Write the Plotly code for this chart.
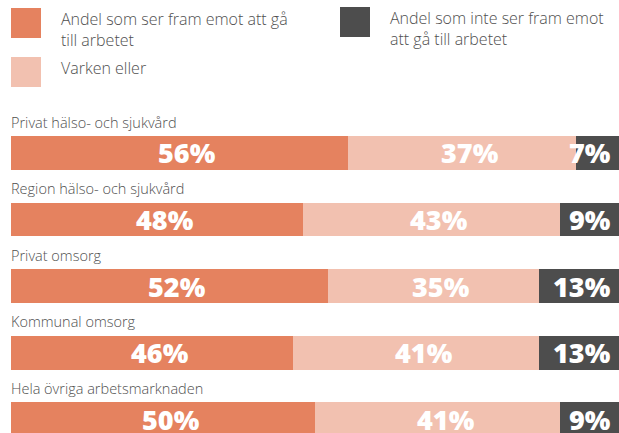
import plotly.graph_objects as go

categories = ["Privat hälso- och sjukvård", "Region hälso- och sjukvård", "Privat omsorg",
              "Kommunal omsorg", "Hela övriga arbetsmarknaden"]
positive = [55.4, 48.0, 52.1, 46.4, 50.0]
neutral = [37.5, 42.3, 34.7, 40.4, 40.3]
negative = [7.1, 9.7, 13.2, 13.2, 9.7]
pos_labels = ["56%", "48%", "52%", "46%", "50%"]
neu_labels = ["37%", "43%", "35%", "41%", "41%"]
neg_labels = ["7%", "9%", "13%", "13%", "9%"]
series_names = ["Andel som ser fram emot att gå<br>till arbetet", "Varken eller",
                "Andel som inte ser fram emot<br>att gå till arbetet"]

C_POS = "#E5825F"
C_NEU = "#F2C1B0"
C_NEG = "#4D4D4D"
TXT = "#505050"
W, H = 619, 433

idx = list(range(len(categories)))
fig = go.Figure()
for vals, col, name in [(positive, C_POS, series_names[0]), (neutral, C_NEU, series_names[1]),
                        (negative, C_NEG, series_names[2])]:
    fig.add_trace(go.Bar(y=idx, x=vals, orientation="h", marker=dict(color=col, line=dict(width=0)),
                         width=0.511, name=name, showlegend=False, hoverinfo="skip"))

big = dict(family="Open Sans", size=27, color="white", weight=800)
cat_font = dict(family="Open Sans", size=14.5, color=TXT, weight=300)
leg_font = dict(family="Open Sans", size=16, color=TXT, weight=300)
ann = []
for i in idx:
    total = round(positive[i] + neutral[i] + negative[i], 6)
    ann.append(dict(x=0, y=i - 0.46, xref="x", yref="y", text=categories[i], showarrow=False,
                    xanchor="left", yanchor="middle", xshift=-2, font=cat_font))
    ann.append(dict(x=positive[i] / 2, y=i, xref="x", yref="y", text=pos_labels[i], showarrow=False,
                    xanchor="center", yanchor="middle", xshift=8, font=big))
    ann.append(dict(x=positive[i] + neutral[i] / 2, y=i, xref="x", yref="y", text=neu_labels[i],
                    showarrow=False, xanchor="center", yanchor="middle", xshift=8, font=big))
    ann.append(dict(x=total, y=i, xref="x", yref="y",
                    text=neg_labels[i], showarrow=False, xanchor="right", yanchor="middle",
                    xshift=-6, font=big))

# legend (custom)
shapes = []
leg = [(11, 8, C_POS, series_names[0]), (11, 57, C_NEU, series_names[1]),
       (340, 7, C_NEG, series_names[2])]
for px, py, col, name in leg:
    shapes.append(dict(type="rect", xref="paper", yref="paper", x0=px / W, x1=(px + 30) / W,
                       y0=1 - (py + 30) / H, y1=1 - py / H, fillcolor=col, line=dict(width=0)))
    ann.append(dict(x=(px + 49) / W, y=1 - (py - 1) / H, xref="paper", yref="paper", text=name,
                    showarrow=False, xanchor="left", yanchor="top", align="left",
                    borderpad=0, font=leg_font))

fig.update_layout(
    barmode="stack", width=W, height=H, margin=dict(l=0, r=0, t=0, b=0),
    paper_bgcolor="white", plot_bgcolor="white",
    xaxis=dict(domain=[11 / W, 1], range=[0, 100], visible=False, fixedrange=True),
    yaxis=dict(range=[4.21, -2.30], visible=False, fixedrange=True),
    annotations=ann, shapes=shapes, showlegend=False,
)
fig.write_html("out.html", config={"displayModeBar": False},
               post_script="document.body.style.margin='0';document.body.style.overflow='hidden';")
